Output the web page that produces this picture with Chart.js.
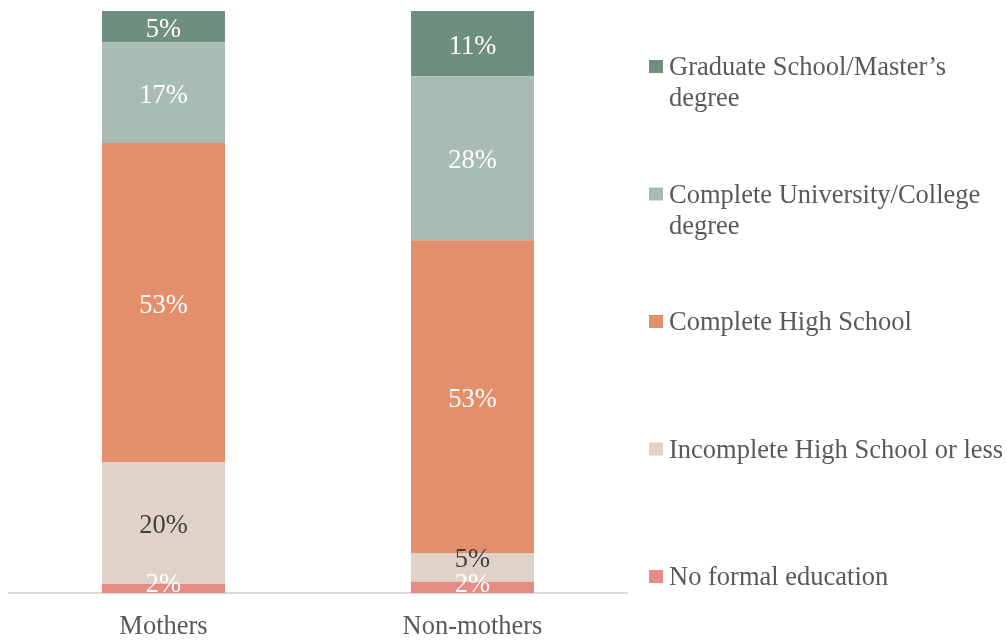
<!DOCTYPE html>
<html>
<head>
<meta charset="utf-8">
<script src="https://cdn.jsdelivr.net/npm/chart.js@4/dist/chart.umd.min.js"></script>
<style>
html,body{margin:0;padding:0;background:#fff;}
#wrap{width:1007px;height:640px;position:relative;}
</style>
</head>
<body>
<div id="wrap"><canvas id="c" width="1007" height="640"></canvas></div>
<script>
// ---- data ----
const categories = ["Mothers", "Non-mothers"];
const seriesNames = [
  "No formal education",
  "Incomplete High School or less",
  "Complete High School",
  "Complete University/College degree",
  "Graduate School/Master\u2019s degree"
];
// shares (percent of each bar)
const noFormal    = [1.5, 1.9];
const incomplete  = [20.3, 4.9];
const highSchool  = [53.2, 53.2];
const university  = [16.8, 27.9];
const graduate    = [5.2, 11.1];
// data labels as printed on the chart
const noFormalLabels   = ["2%", "2%"];
const incompleteLabels = ["20%", "5%"];
const highSchoolLabels = ["53%", "53%"];
const universityLabels = ["17%", "28%"];
const graduateLabels   = ["5%", "11%"];
// legend text lines (top to bottom in the legend)
const legendLines = [
  ["Graduate School/Master\u2019s", "degree"],
  ["Complete University/College", "degree"],
  ["Complete High School"],
  ["Incomplete High School or less"],
  ["No formal education"]
];

// ---- styles ----
const colors = ["#E68B83", "#E0D2C8", "#E48F6C", "#A9BCB3", "#6F8F7E"];
const labelColors = ["#FFFFFF", "#404040", "#FFFFFF", "#FFFFFF", "#FFFFFF"];
const FONT = "26.5px 'Liberation Serif', 'Times New Roman', serif";
const TEXT = "#595959";

const seriesValues = [noFormal, incomplete, highSchool, university, graduate];
const seriesLabels = [noFormalLabels, incompleteLabels, highSchoolLabels, universityLabels, graduateLabels];

// normalise each bar to 100% (100% stacked)
const totals = categories.map((_, i) => seriesValues.reduce((s, arr) => s + arr[i], 0));
const datasets = seriesValues.map((arr, k) => ({
  label: seriesNames[k],
  data: arr.map((v, i) => v / totals[i] * 100),
  backgroundColor: colors[k],
  borderWidth: 0,
  barPercentage: 0.398,
  categoryPercentage: 1.0
}));

const labelPlugin = {
  id: 'segLabels',
  afterDatasetsDraw(chart) {
    const ctx = chart.ctx;
    const bottom = chart.chartArea.bottom;
    const h = 25;
    ctx.save();
    ctx.font = FONT;
    ctx.textAlign = 'center';
    ctx.textBaseline = 'middle';
    categories.forEach((_, i) => {
      let prevY = null;
      chart.data.datasets.forEach((ds, k) => {
        const el = chart.getDatasetMeta(k).data[i];
        let y = (el.y + el.base) / 2;
        y = Math.min(y, bottom - 11);
        if (prevY !== null) y = Math.min(y, prevY - h);
        prevY = y;
        ctx.fillStyle = labelColors[k];
        ctx.fillText(seriesLabels[k][i], el.x, y + 3);
      });
    });
    ctx.restore();
  }
};

const legendPlugin = {
  id: 'sideLegend',
  afterDraw(chart) {
    const ctx = chart.ctx;
    ctx.save();
    ctx.font = FONT;
    ctx.textAlign = 'left';
    ctx.textBaseline = 'alphabetic';
    const n = legendLines.length;
    legendLines.forEach((lines, j) => {
      const base = 75 + j * 127.5;
      const k = n - 1 - j;
      ctx.fillStyle = colors[k];
      ctx.fillRect(649, base - 15, 14, 13);
      ctx.fillStyle = TEXT;
      lines.forEach((t, li) => ctx.fillText(t, 669, base + li * 31));
    });
    ctx.restore();
  }
};

new Chart(document.getElementById('c'), {
  type: 'bar',
  data: { labels: categories, datasets },
  options: {
    responsive: false,
    animation: false,
    layout: { padding: { left: 9, right: 380, top: 11, bottom: 0 } },
    plugins: { legend: { display: false }, tooltip: { enabled: false } },
    scales: {
      x: {
        stacked: true,
        grid: { display: false },
        border: { display: true, color: '#D9D9D9', width: 2 },
        ticks: { color: TEXT, font: { family: "'Liberation Serif', 'Times New Roman', serif", size: 26.5 }, padding: 10 },
        afterFit(s) { s.height = 47; }
      },
      y: {
        stacked: true,
        display: false,
        min: 0,
        max: 100
      }
    }
  },
  plugins: [labelPlugin, legendPlugin]
});
</script>
</body>
</html>
